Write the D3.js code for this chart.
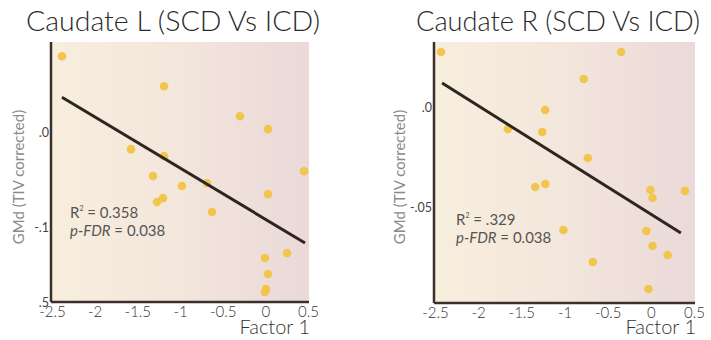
<!DOCTYPE html>
<html><head><meta charset="utf-8">
<script src="https://cdn.jsdelivr.net/npm/d3@7"></script>
<style>body{margin:0;background:#fff}svg{display:block}</style>
</head><body>
<svg id="c" width="711" height="340"></svg>
<script>
// ---- data ----
const titles = ["Caudate L (SCD Vs ICD)", "Caudate R (SCD Vs ICD)"];
const xTicks = [-2.5, -2, -1.5, -1, -0.5, 0, 0.5];
const xTickLabels = ["-2.5", "-2", "-1.5", "-1", "-0.5", "0", "0.5"];
const leftYTicks = [0, -0.1, -0.179];
const leftYTickLabels = [".0", "-.1", ".5"];
const rightYTicks = [0, -0.05];
const rightYTickLabels = [".0", "-.05"];
const leftX = [-2.383,-1.187,-0.297,0.031,-1.574,-1.187,0.453,-1.316,-0.977,-0.684,-1.270,-1.199,0.031,-0.625,0.254,-0.004,0.031,0.008,-0.004];
const leftY = [0.080,0.0484,0.0168,0.0032,-0.0179,-0.0253,-0.0411,-0.0463,-0.0568,-0.0537,-0.0737,-0.0695,-0.0653,-0.0842,-0.1274,-0.1326,-0.1495,-0.1653,-0.1684];
const leftFit = [[-2.383, 0.0368], [0.465, -0.1168]];
const rightX = [-2.430,-0.344,-0.777,-1.223,-1.656,-1.258,-0.730,-1.340,-1.223,-0.004,0.020,0.395,-1.012,-0.051,0.020,0.195,-0.672,-0.027];
const rightY = [0.0275,0.0275,0.014,-0.0015,-0.011,-0.0125,-0.0255,-0.040,-0.0385,-0.0415,-0.0455,-0.042,-0.0615,-0.062,-0.0695,-0.074,-0.0775,-0.091];
const rightFit = [[-2.418, 0.012], [0.348, -0.063]];
const stats = [["0.358", "0.038"], [".329", "0.038"]];
const yLabel = "GMd (TIV corrected)";
const xLabel = "Factor 1";

const panels = [
  {title: titles[0], xs: leftX, ys: leftY, fit: leftFit, yt: leftYTicks, ytl: leftYTickLabels,
   ydom: [-0.179, 0.095], left: 51, right: 309, top: 42, bottom: 302, tx: 173, tw: 294, stx: 70, sty: 218, ylx: 24, st: stats[0]},
  {title: titles[1], xs: rightX, ys: rightY, fit: rightFit, yt: rightYTicks, ytl: rightYTickLabels,
   ydom: [-0.098, 0.0325], left: 434, right: 695, top: 42, bottom: 303, tx: 558, tw: 284, stx: 456, sty: 225, ylx: 405, st: stats[1]}
];

const svg = d3.select("#c");
const defs = svg.append("defs");
const grad = defs.append("linearGradient").attr("id", "bg").attr("x1", "0").attr("x2", "1").attr("y1", "0").attr("y2", "0");
grad.append("stop").attr("offset", "0").attr("stop-color", "#f8eedd");
grad.append("stop").attr("offset", "0.5").attr("stop-color", "#f3e6dc");
grad.append("stop").attr("offset", "1").attr("stop-color", "#ead9d8");

const font = "Lato, 'DejaVu Sans', sans-serif";

panels.forEach(p => {
  const x = d3.scaleLinear().domain([-2.5, 0.5]).range([p.left + 1, p.right - 1]);
  const y = d3.scaleLinear().domain(p.ydom).range([p.bottom, p.top]);
  const g = svg.append("g");

  g.append("rect").attr("x", p.left).attr("y", p.top).attr("width", p.right - p.left).attr("height", p.bottom - p.top)
    .attr("fill", "url(#bg)");

  // y label (drawn first so tick labels sit on top)
  g.append("text").attr("transform", `translate(${p.ylx},${177}) rotate(-90)`).attr("text-anchor", "middle")
    .attr("font-family", font).attr("font-size", 15).attr("fill", "#8a8a8a").text(yLabel);

  // title
  g.append("text").attr("x", p.tx).attr("y", 31).attr("text-anchor", "middle")
    .attr("font-family", font).attr("font-size", 27).attr("font-weight", 300).attr("fill", "#2a2a2a")
    .attr("textLength", p.tw).attr("lengthAdjust", "spacingAndGlyphs")
    .text(p.title);

  // x axis
  const xa = g.append("g").attr("transform", `translate(0,${p.bottom})`)
    .call(d3.axisBottom(x).tickValues(xTicks).tickSize(0).tickPadding(4)
      .tickFormat((d, i) => xTickLabels[i]));
  xa.select(".domain").attr("stroke", "#3b302b").attr("stroke-width", 2.5).attr("d", `M${p.left},0H${p.right}`);
  xa.selectAll("text").attr("font-family", font).attr("font-size", 15).attr("font-weight", 300).attr("fill", "#333");

  // y axis
  const ya = g.append("g").attr("transform", `translate(${p.left},0)`)
    .call(d3.axisLeft(y).tickValues(p.yt).tickSize(0).tickPadding(2)
      .tickFormat((d, i) => p.ytl[i]));
  ya.select(".domain").attr("stroke", "#3b302b").attr("stroke-width", 2.5).attr("d", `M0,${p.top}V${p.bottom}`);
  ya.selectAll("text").attr("font-family", font).attr("font-size", 12.5).attr("fill", "#444");

  // points
  g.append("g").selectAll("circle").data(p.xs.map((v, i) => [v, p.ys[i]])).join("circle")
    .attr("cx", d => x(d[0])).attr("cy", d => y(d[1])).attr("r", 4.3).attr("fill", "#f1c54e");

  // fit line
  g.append("line").attr("x1", x(p.fit[0][0])).attr("y1", y(p.fit[0][1]))
    .attr("x2", x(p.fit[1][0])).attr("y2", y(p.fit[1][1]))
    .attr("stroke", "#2d2522").attr("stroke-width", 3);

  // stats
  const t1 = g.append("text").attr("x", p.stx).attr("y", p.sty).attr("font-family", font).attr("font-size", 15).attr("fill", "#555");
  t1.append("tspan").text("R");
  t1.append("tspan").attr("dy", -7).attr("font-size", 7).text("2");
  t1.append("tspan").attr("dy", 7).text(" = " + p.st[0]);
  const t2 = g.append("text").attr("x", p.stx).attr("y", p.sty + 18).attr("font-family", font).attr("font-size", 15).attr("fill", "#555");
  t2.append("tspan").attr("font-style", "italic").text("p-FDR");
  t2.append("tspan").text(" = " + p.st[1]);

  // x label
  g.append("text").attr("x", p.right + 1).attr("y", 334).attr("text-anchor", "end")
    .attr("font-family", font).attr("font-size", 20).attr("font-weight", 300).attr("fill", "#333").text(xLabel);
});
</script>
</body></html>
